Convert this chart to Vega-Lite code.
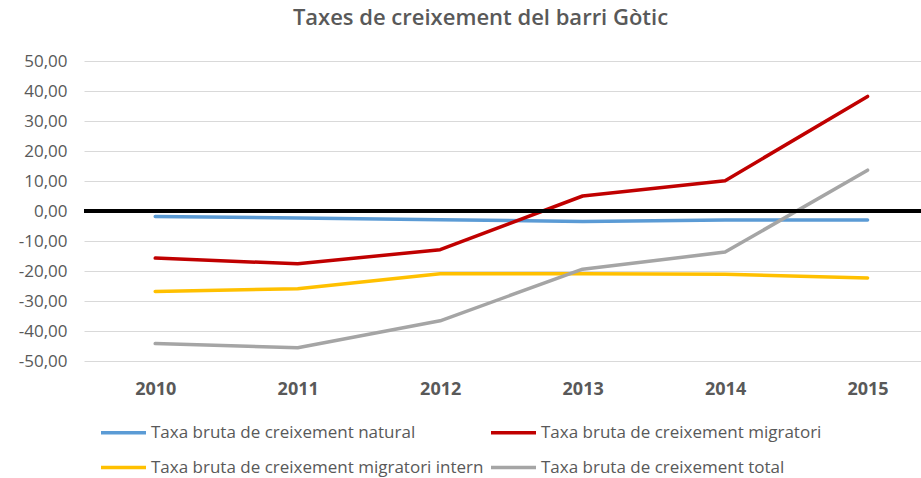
{
  "$schema": "https://vega.github.io/schema/vega-lite/v6.json",
  "autosize": "none",
  "width": 837,
  "height": 300,
  "padding": {"left": 84, "top": 61, "right": 0, "bottom": 117},
  "background": "white",
  "title": {
    "text": "Taxes de creixement del barri Gòtic",
    "font": "Open Sans",
    "fontSize": 22,
    "fontWeight": 600,
    "color": "#595959",
    "anchor": "middle",
    "dx": -22,
    "offset": 22
  },
  "config": {
    "view": {"stroke": null},
    "font": "Open Sans",
    "axis": {"labelOverlap": false, "labelSeparation": 0}
  },
  "data": {
    "values": [
      {"year": 2010, "serie": "Taxa bruta de creixement natural", "valor": -1.8},
      {"year": 2011, "serie": "Taxa bruta de creixement natural", "valor": -2.3},
      {"year": 2012, "serie": "Taxa bruta de creixement natural", "valor": -2.9},
      {"year": 2013, "serie": "Taxa bruta de creixement natural", "valor": -3.5},
      {"year": 2014, "serie": "Taxa bruta de creixement natural", "valor": -3.0},
      {"year": 2015, "serie": "Taxa bruta de creixement natural", "valor": -3.0},
      {"year": 2010, "serie": "Taxa bruta de creixement migratori", "valor": -15.7},
      {"year": 2011, "serie": "Taxa bruta de creixement migratori", "valor": -17.6},
      {"year": 2012, "serie": "Taxa bruta de creixement migratori", "valor": -12.9},
      {"year": 2013, "serie": "Taxa bruta de creixement migratori", "valor": 5.0},
      {"year": 2014, "serie": "Taxa bruta de creixement migratori", "valor": 10.1},
      {"year": 2015, "serie": "Taxa bruta de creixement migratori", "valor": 38.2},
      {"year": 2010, "serie": "Taxa bruta de creixement migratori intern", "valor": -26.8},
      {"year": 2011, "serie": "Taxa bruta de creixement migratori intern", "valor": -25.9},
      {"year": 2012, "serie": "Taxa bruta de creixement migratori intern", "valor": -20.9},
      {"year": 2013, "serie": "Taxa bruta de creixement migratori intern", "valor": -20.9},
      {"year": 2014, "serie": "Taxa bruta de creixement migratori intern", "valor": -21.1},
      {"year": 2015, "serie": "Taxa bruta de creixement migratori intern", "valor": -22.3},
      {"year": 2010, "serie": "Taxa bruta de creixement total", "valor": -44.2},
      {"year": 2011, "serie": "Taxa bruta de creixement total", "valor": -45.6},
      {"year": 2012, "serie": "Taxa bruta de creixement total", "valor": -36.6},
      {"year": 2013, "serie": "Taxa bruta de creixement total", "valor": -19.4},
      {"year": 2014, "serie": "Taxa bruta de creixement total", "valor": -13.7},
      {"year": 2015, "serie": "Taxa bruta de creixement total", "valor": 13.6}
    ]
  },
  "encoding": {
    "y": {
      "field": "valor",
      "type": "quantitative",
      "scale": {"domain": [-50, 50], "nice": false},
      "axis": {
        "title": null,
        "values": [-50, -40, -30, -20, -10, 0, 10, 20, 30, 40, 50],
        "tickCount": 11,
        "labelExpr": "replace(replace(format(datum.value, '.2f'), '.', ','), '\u2212', '-')",
        "labelOverlap": false,
        "labelSeparation": 0,
        "grid": true,
        "gridColor": "#d9d9d9",
        "gridWidth": 1,
        "domain": false,
        "ticks": false,
        "labelFont": "Open Sans",
        "labelFontSize": 17,
        "labelColor": "#595959",
        "labelPadding": 17
      }
    }
  },
  "layer": [
    {
      "mark": {"type": "line", "strokeWidth": 3.5, "strokeCap": "round", "strokeJoin": "round"},
      "encoding": {
        "x": {
          "field": "year",
          "type": "quantitative",
          "scale": {"domain": [2009.5, 2015.375], "nice": false, "zero": false},
          "axis": {
            "title": null,
            "values": [2010, 2011, 2012, 2013, 2014, 2015],
            "format": "d",
            "grid": false,
            "domain": false,
            "ticks": false,
            "labelFont": "Open Sans",
            "labelFontSize": 18,
            "labelFontWeight": "bold",
            "labelColor": "#595959",
            "labelPadding": 19
          }
        },
        "color": {
          "field": "serie",
          "type": "nominal",
          "scale": {
            "domain": [
              "Taxa bruta de creixement natural",
              "Taxa bruta de creixement migratori",
              "Taxa bruta de creixement migratori intern",
              "Taxa bruta de creixement total"
            ],
            "range": ["#5b9bd5", "#c00000", "#ffc000", "#a5a5a5"]
          },
          "legend": {
            "title": null,
            "orient": "none",
            "legendX": 15,
            "legendY": 347,
            "direction": "horizontal",
            "columns": 2,
            "symbolType": "stroke",
            "symbolSize": 2025,
            "symbolStrokeWidth": 3.5,
            "labelFont": "Open Sans",
            "labelFontSize": 17,
            "labelColor": "#595959",
            "labelOffset": 3,
            "labelLimit": 500,
            "rowPadding": 2,
            "columnPadding": 0
          }
        }
      }
    },
    {
      "mark": {"type": "rule", "color": "black", "strokeWidth": 2.5},
      "encoding": {"y": {"datum": 0}}
    }
  ]
}
